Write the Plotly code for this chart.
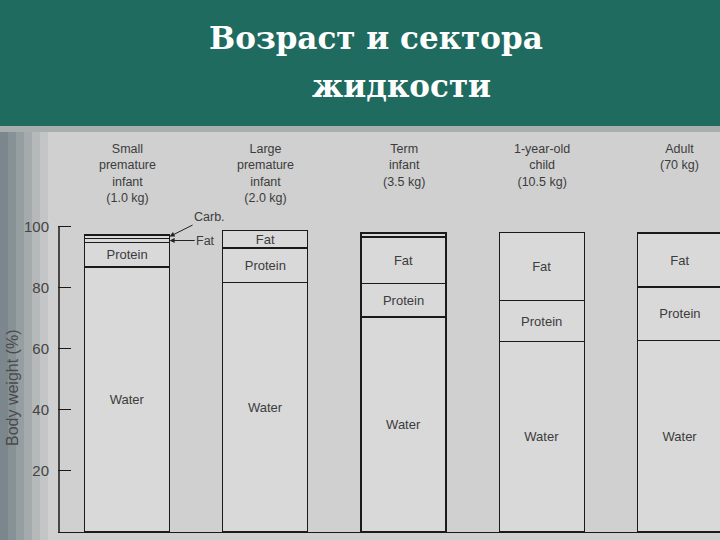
import plotly.graph_objects as go

# ---- data ----
categories = ["Small<br>premature<br>infant<br>(1.0 kg)",
              "Large<br>premature<br>infant<br>(2.0 kg)",
              "Term<br>infant<br>(3.5 kg)",
              "1-year-old<br>child<br>(10.5 kg)",
              "Adult<br>(70 kg)"]
water = [86.8, 81.7, 70.4, 62.3, 62.7]
protein = [7.9, 11.3, 10.9, 13.4, 17.5]
fat = [1.5, 5.7, 15.3, 22.4, 17.7]
carb = [1.1, 0.0, 1.3, 0.0, 0.0]
tick_vals = [20, 40, 60, 80, 100]

W, H = 720, 540
ML, MR, MT, MB = 58, 0, 135, 8
PW, PH = W - ML - MR, H - MT - MB

def pxx(x):
    return (x - ML) / PW

def pxy(y):
    return (H - MB - y) / PH

xs = list(range(len(categories)))
bar_fill = "#d9d9d9"
txt_col = "#3c3c3c"
font_sans = "Liberation Sans"

def series(name, vals, labels):
    return go.Bar(
        name=name, x=xs, y=vals, width=0.615,
        marker=dict(color=bar_fill, line=dict(color="#1a1a1a", width=1.3)),
        text=labels, textposition="inside", insidetextanchor="middle",
        textangle=0, constraintext="none",
        textfont=dict(family=font_sans, size=13, color=txt_col),
        hoverinfo="skip", showlegend=False,
    )

fig = go.Figure()
fig.add_trace(series("Water", water, ["Water"] * 5))
fig.add_trace(series("Protein", protein, ["Protein"] * 5))
fig.add_trace(series("Fat", fat, ["", "Fat", "Fat", "Fat", "Fat"]))
fig.add_trace(series("Carb", carb, [""] * 5))

shapes = []
# header band
shapes.append(dict(type="rect", xref="paper", yref="paper",
                   x0=pxx(0), x1=pxx(W), y0=pxy(126), y1=pxy(0),
                   fillcolor="#1f6b5f", line=dict(width=0), layer="above"))
shapes.append(dict(type="rect", xref="paper", yref="paper",
                   x0=pxx(0), x1=pxx(W), y0=pxy(132), y1=pxy(126),
                   fillcolor="#a8adad", line=dict(width=0), layer="below"))
# left dark strip (photo edge)
strip_cols = ["#7b878c", "#879296", "#959ea1", "#a5abad", "#b5b9ba", "#c3c5c6"]
for k, c in enumerate(strip_cols):
    shapes.append(dict(type="rect", xref="paper", yref="paper",
                       x0=pxx(k * 8), x1=pxx(k * 8 + 8), y0=pxy(H), y1=pxy(132),
                       fillcolor=c, line=dict(width=0), layer="below"))
# y axis line
shapes.append(dict(type="line", xref="paper", yref="paper", x0=pxx(59), x1=pxx(59),
                   y0=0, y1=100 / 130, line=dict(color="#1a1a1a", width=1.5)))

annotations = []
annotations.append(dict(xref="paper", yref="paper", x=pxx(376), y=pxy(38),
                        text="<b>Возраст и сектора</b>", showarrow=False,
                        font=dict(family="DejaVu Serif", size=31, color="white"),
                        xanchor="center", yanchor="middle"))
annotations.append(dict(xref="paper", yref="paper", x=pxx(401), y=pxy(86),
                        text="<b>жидкости</b>", showarrow=False,
                        font=dict(family="DejaVu Serif", size=31, color="white"),
                        xanchor="center", yanchor="middle"))
for i, c in enumerate(categories):
    annotations.append(dict(x=i, y=128.5, xref="x", yref="y", text=c, showarrow=False,
                            xanchor="center", yanchor="top",
                            font=dict(family=font_sans, size=12.5, color=txt_col)))
annotations.append(dict(xref="paper", yref="paper", x=pxx(12), y=pxy(388),
                        xanchor="center", yanchor="middle",
                        text="Body weight (%)", textangle=-90, showarrow=False,
                        font=dict(family=font_sans, size=16, color="#4a4a4a")))
bar1_edge = 0 + 0.615 / 2
annotations.append(dict(x=bar1_edge, y=water[0] + protein[0] + fat[0] + carb[0] / 2,
                        xref="x", yref="y", text="Carb.", showarrow=True,
                        ax=40, ay=-20, arrowhead=2, arrowsize=1, arrowwidth=1,
                        arrowcolor="#222", font=dict(family=font_sans, size=12.5, color=txt_col)))
annotations.append(dict(x=bar1_edge, y=water[0] + protein[0] + fat[0] / 2,
                        xref="x", yref="y", text="Fat", showarrow=True,
                        ax=36, ay=0, arrowhead=2, arrowsize=1, arrowwidth=1,
                        arrowcolor="#222", font=dict(family=font_sans, size=12.5, color=txt_col)))

fig.update_layout(
    width=W, height=H, barmode="stack",
    margin=dict(l=ML, r=MR, t=MT, b=MB, pad=0),
    paper_bgcolor="#d0d0d0", plot_bgcolor="#d0d0d0",
    shapes=shapes, annotations=annotations,
    uniformtext=dict(mode=False),
    xaxis=dict(range=[-0.5, 4.29], showgrid=False, zeroline=False, showticklabels=False,
               ticks="", showline=True, linecolor="#1a1a1a", linewidth=1.3, fixedrange=True),
    yaxis=dict(range=[0, 130], showgrid=False, zeroline=False, showline=False,
               tickvals=tick_vals, ticks="inside", ticklen=13, tickwidth=1.3,
               tickcolor="#1a1a1a", tickfont=dict(family=font_sans, size=15, color="#444"),
               ticklabelstandoff=8),
)

fig.write_html("out.html", config={"displayModeBar": False},
               post_script="document.body.style.margin='0';document.body.style.padding='0';")
